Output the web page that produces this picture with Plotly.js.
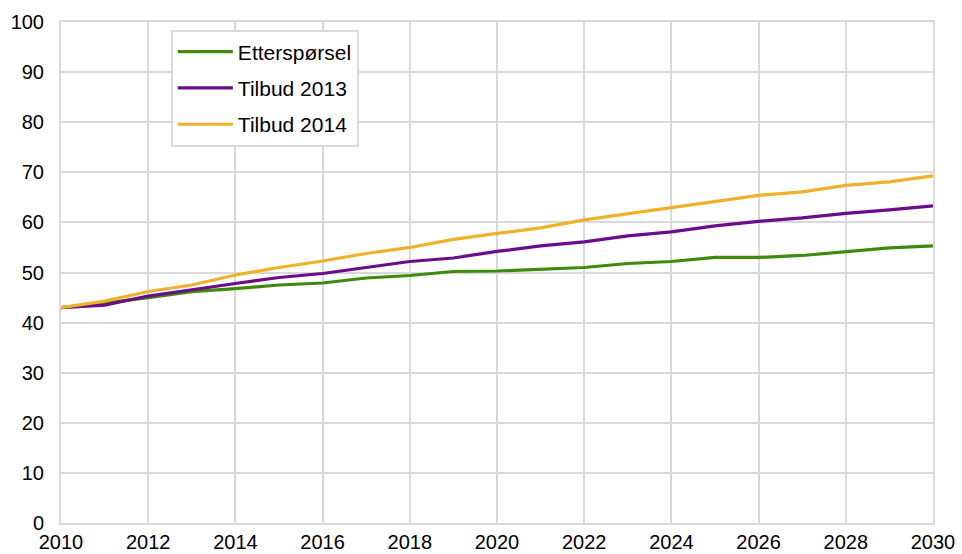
<!DOCTYPE html>
<html><head><meta charset="utf-8">
<script src="https://cdn.plot.ly/plotly-3.0.1.min.js"></script>
<style>html,body{margin:0;padding:0;background:#fff}#chart{width:962px;height:554px}</style>
</head><body><div id="chart"></div>
<script>
const years = [2010,2011,2012,2013,2014,2015,2016,2017,2018,2019,2020,2021,2022,2023,2024,2025,2026,2027,2028,2029,2030];
const etterspoersel = [43,43.9,45,46.2,46.8,47.5,47.9,48.9,49.4,50.2,50.3,50.6,51,51.8,52.2,53,53,53.4,54.2,54.9,55.3];
const tilbud2013 = [43,43.5,45.3,46.6,47.8,49,49.8,51,52.2,52.9,54.2,55.3,56.1,57.3,58.1,59.3,60.2,60.9,61.8,62.5,63.3];
const tilbud2014 = [43,44.3,46.2,47.5,49.5,51,52.3,53.8,55,56.6,57.8,58.9,60.5,61.7,62.9,64.1,65.4,66.1,67.4,68.1,69.3];
const names = ['Etterspørsel','Tilbud 2013','Tilbud 2014'];
const colors = ['#3d8a0c','#6b0c8a','#efb12a'];
const series = [etterspoersel, tilbud2013, tilbud2014];

const traces = series.map((s,i)=>({
  x: years, y: s, name: names[i], type:'scatter', mode:'lines', legendgroup:'g'+i,
  line:{color:colors[i], width:3.2}
}));

const font = {family:'"Liberation Sans", Arial, sans-serif', size:20, color:'#000'};
const legendFont = {family:'"Liberation Sans", Arial, sans-serif', size:21, color:'#000'};
const layout = {
  width:962, height:554,
  margin:{l:61, r:29, t:22, b:31},
  paper_bgcolor:'#fff', plot_bgcolor:'#fff',
  font: font,
  showlegend:true,
  legend:{x:0.126, y:0.985, xanchor:'left', yanchor:'top', bgcolor:'#fff',
    bordercolor:'#d9d9d9', borderwidth:2, font:legendFont, tracegroupgap:6, itemwidth:55},
  xaxis:{range:[2010,2030], tickvals:[2010,2012,2014,2016,2018,2020,2022,2024,2026,2028,2030],
    ticktext:['2010','2012','2014','2016','2018','2020','2022','2024','2026','2028','2030'],
    showgrid:true, gridcolor:'#d9d9d9', gridwidth:2, zeroline:false,
    showline:true, linecolor:'#d9d9d9', linewidth:2, mirror:true,
    ticks:'', tickfont:font, fixedrange:true},
  yaxis:{range:[0,100], tickvals:[0,10,20,30,40,50,60,70,80,90,100],
    showgrid:true, gridcolor:'#d9d9d9', gridwidth:2, zeroline:false,
    showline:true, linecolor:'#d9d9d9', linewidth:2, mirror:true,
    ticks:'', tickfont:font, ticklabelstandoff:11, fixedrange:true}
};
Plotly.newPlot('chart', traces, layout, {displayModeBar:false, staticPlot:true});
</script></body></html>
